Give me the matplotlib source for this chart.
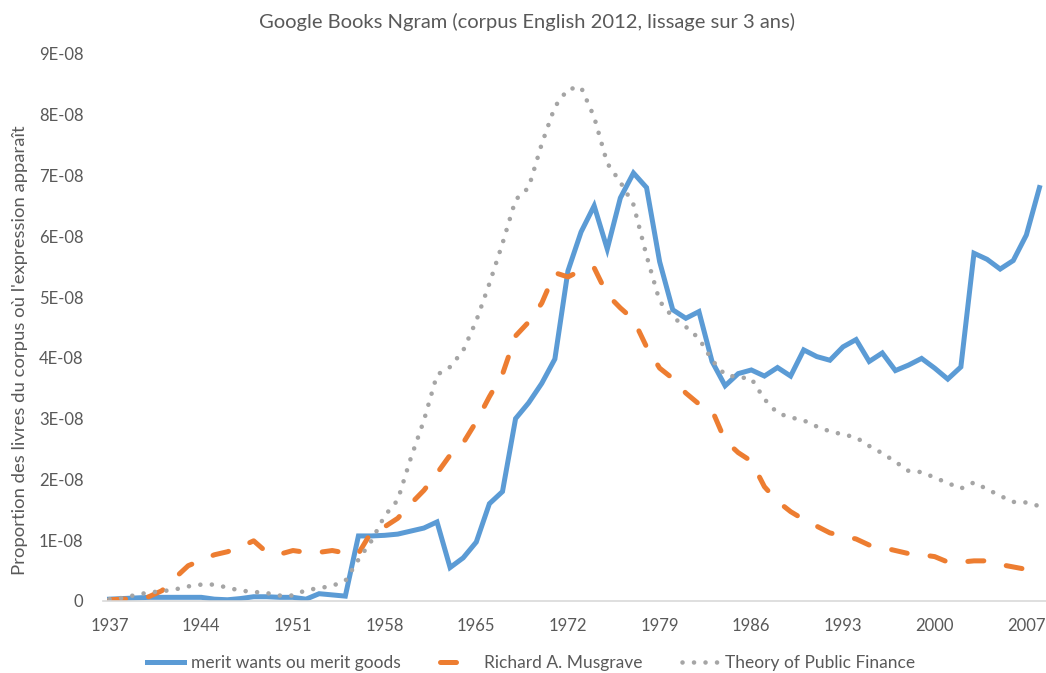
import matplotlib
matplotlib.use("Agg")
import matplotlib.pyplot as plt
from matplotlib.ticker import FuncFormatter

# years 1937..2008, values in units of 1E-08
years = list(range(1937, 2009))

merit_goods = [
    0.03, 0.04, 0.05, 0.06, 0.06, 0.06, 0.06, 0.06, 0.03, 0.02,
    0.04, 0.07, 0.07, 0.06, 0.06, 0.03, 0.12, 0.10, 0.08, 1.07,
    1.07, 1.08, 1.10, 1.15, 1.20, 1.30, 0.55, 0.71, 0.97, 1.60,
    1.80, 3.00, 3.26, 3.58, 3.98, 5.43, 6.07, 6.50, 5.79, 6.63,
    7.04, 6.80, 5.58, 4.79, 4.65, 4.76, 3.94, 3.54, 3.74, 3.80,
    3.70, 3.84, 3.70, 4.13, 4.02, 3.96, 4.18, 4.30, 3.94, 4.08,
    3.79, 3.88, 3.99, 3.83, 3.65, 3.85, 5.72, 5.62, 5.46, 5.60,
    6.02, 6.80,
]

musgrave = [
    0.02, 0.03, 0.04, 0.07, 0.17, 0.38, 0.58, 0.67, 0.76, 0.81,
    0.89, 0.99, 0.80, 0.77, 0.83, 0.80, 0.80, 0.83, 0.79, 0.78,
    1.14, 1.22, 1.36, 1.60, 1.82, 2.10, 2.40, 2.60, 2.95, 3.36,
    3.73, 4.36, 4.59, 4.90, 5.40, 5.33, 5.44, 5.48, 5.04, 4.82,
    4.63, 4.18, 3.83, 3.66, 3.42, 3.24, 3.14, 2.64, 2.44, 2.30,
    1.88, 1.64, 1.47, 1.34, 1.23, 1.12, 1.07, 1.02, 0.92, 0.88,
    0.83, 0.78, 0.76, 0.73, 0.64, 0.64, 0.66, 0.66, 0.60, 0.56,
    0.52, 0.50,
]

public_finance = [
    0.03, 0.05, 0.10, 0.14, 0.16, 0.19, 0.24, 0.27, 0.27, 0.22,
    0.17, 0.15, 0.13, 0.09, 0.09, 0.18, 0.21, 0.25, 0.33, 0.68,
    0.99, 1.40, 1.66, 2.35, 2.97, 3.72, 3.85, 4.12, 4.61, 5.22,
    5.88, 6.60, 6.80, 7.52, 8.13, 8.42, 8.45, 7.96, 7.20, 6.89,
    6.52, 5.68, 4.93, 4.67, 4.51, 4.32, 3.96, 3.72, 3.68, 3.66,
    3.32, 3.09, 3.02, 2.97, 2.87, 2.79, 2.74, 2.69, 2.55, 2.43,
    2.29, 2.14, 2.12, 2.03, 1.94, 1.85, 1.95, 1.84, 1.73, 1.63,
    1.62, 1.56,
]

tick_years = list(range(1937, 2008, 7))
y_ticks = [i * 1e-8 for i in range(10)]

plt.rcParams['font.family'] = ['Lato', 'DejaVu Sans']
text_color = "#595959"

fig = plt.figure(figsize=(10.46, 6.73), dpi=100)
ax = fig.add_axes([0.0985, 0.107, 0.9015, 0.813])

scale = 1e-8
ax.plot(years, [v * scale for v in merit_goods], color="#5B9BD5", lw=3.6,
        solid_joinstyle="miter", label="merit wants ou merit goods")
ax.plot(years, [v * scale for v in musgrave], color="#ED7D31", lw=3.6,
        linestyle=(0, (3.2, 4.6)), dash_capstyle="round",
        label="Richard A. Musgrave")
ax.plot(years, [v * scale for v in public_finance], color="#A5A5A5", lw=3.3,
        linestyle=(0, (0.01, 2.5)), dash_capstyle="round",
        label="Theory of Public Finance")

ax.set_xlim(1936.5, 2008.5)
ax.set_ylim(0, 9e-8)
ax.set_xticks(tick_years)
ax.set_yticks(y_ticks)
ax.yaxis.set_major_formatter(FuncFormatter(lambda v, p: "0" if v == 0 else f"{v:.0E}"))
ax.tick_params(axis="both", length=0, labelsize=12, colors=text_color)
ax.tick_params(axis="x", pad=12)
ax.tick_params(axis="y", pad=14)

for side in ("top", "right", "left"):
    ax.spines[side].set_visible(False)
ax.spines["bottom"].set_color("#D9D9D9")
ax.spines["bottom"].set_linewidth(1.2)

ax.set_ylabel("Proportion des livres du corpus où l'expression apparaît",
              fontsize=13.3, color=text_color)
ax.yaxis.set_label_coords(-0.080, 0.458)
fig.text(0.504, 0.967, "Google Books Ngram (corpus English 2012, lissage sur 3 ans)",
         ha="center", va="center", fontsize=14.5, color=text_color)

leg = fig.legend(loc="center", bbox_to_anchor=(0.508, 0.015), ncol=3, frameon=False,
                 fontsize=12.5, handlelength=2.1, columnspacing=2.3, handletextpad=0.4)
for t in leg.get_texts():
    t.set_color(text_color)

fig.savefig("out.png", dpi=100)
